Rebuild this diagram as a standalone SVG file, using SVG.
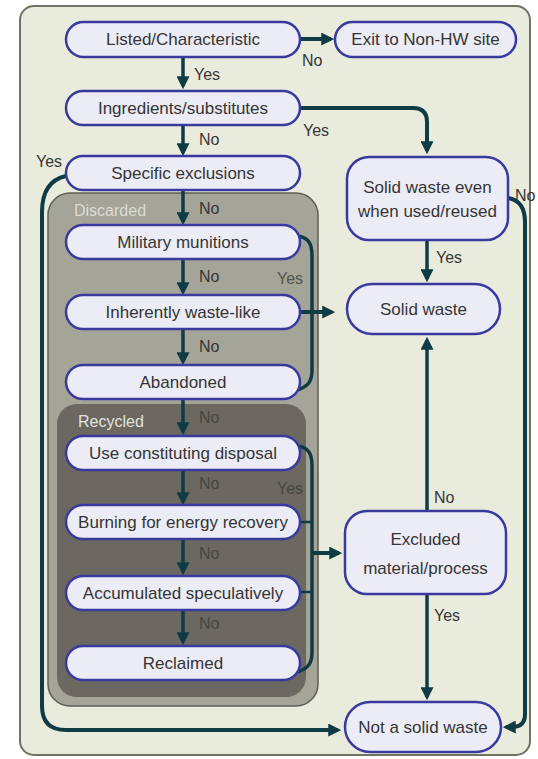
<svg xmlns="http://www.w3.org/2000/svg" width="538" height="759" viewBox="0 0 538 759">
<defs>
<style>
.node rect{fill:#ececf6;stroke:#3a3a9e;stroke-width:2.5}
.node text{font-family:"Liberation Sans",Arial,sans-serif;font-size:17px;fill:#353535;text-anchor:middle}
.lbl{font-family:"Liberation Sans",Arial,sans-serif;font-size:16px;fill:#363636}
.lbl.dim{fill:#53534d}
.lbl.dark{fill:#46463f}
.grp{font-family:"Liberation Sans",Arial,sans-serif;font-size:16px;fill:#dcdcd4}
.c{fill:none;stroke:#0f3b45;stroke-width:4}
.c2{fill:none;stroke:#0f3b45;stroke-width:3.5}
.stub{fill:none;stroke:#0f3b45;stroke-width:2.5}
</style>
<marker id="ah" viewBox="0 0 12 12" refX="9" refY="6" markerWidth="13" markerHeight="13" markerUnits="userSpaceOnUse" orient="auto">
<path d="M0,0 L12,6 L0,12 z" fill="#0f3b45"/>
</marker>
</defs>

<rect x="20" y="6" width="510" height="749" rx="14" fill="#e9ebdc" stroke="#707263" stroke-width="2"/>

<g id="discarded">
<rect x="48" y="193" width="270" height="513" rx="22" fill="#a4a498" stroke="#5e5e56" stroke-width="1.5"/>
<text class="grp" x="74" y="216">Discarded</text>
</g>
<g id="recycled">
<rect x="57" y="404" width="249" height="293" rx="20" fill="#6a6861"/>
<text class="grp" x="78" y="427" style="fill:#e2e2dc">Recycled</text>
</g>

<g id="connectors">
<path class="c" d="M300,39 H331" marker-end="url(#ah)"/>
<path class="c2" d="M183,57 V86" marker-end="url(#ah)"/>
<path class="c" d="M300,108 H413 Q427,108 427,122 V151" marker-end="url(#ah)"/>
<path class="c2" d="M183,125 V153" marker-end="url(#ah)"/>
<path class="c2" d="M183,190 V222" marker-end="url(#ah)"/>
<path class="c2" d="M183,259 V292" marker-end="url(#ah)"/>
<path class="c2" d="M183,329 V362" marker-end="url(#ah)"/>
<path class="c2" d="M183,399 V432" marker-end="url(#ah)"/>
<path class="c2" d="M183,470 V502" marker-end="url(#ah)"/>
<path class="c2" d="M183,539 V572" marker-end="url(#ah)"/>
<path class="c2" d="M183,610 V642" marker-end="url(#ah)"/>
<path class="c" d="M66,176 C48,180 42,194 42,212 V706 Q42,730 66,730 H338" marker-end="url(#ah)"/>
<path class="c2" d="M298,236 C309,238 312,244 312,256 V370 C312,382 308,386 298,390"/>
<path class="c" d="M300,312 H332" marker-end="url(#ah)"/>
<path class="c2" d="M298,446 C309,448 312,454 312,466 V652 C312,664 308,668 298,672"/>
<path class="stub" d="M300,522 H312 M300,592 H312"/>
<path class="c" d="M312,553 H339" marker-end="url(#ah)"/>
<path class="c2" d="M427,240 V279" marker-end="url(#ah)"/>
<path class="c2" d="M427,511 V340" marker-end="url(#ah)"/>
<path class="c2" d="M427,594 V697" marker-end="url(#ah)"/>
<path class="c" d="M508,198 C520,200 525,208 525,222 V714 Q525,727 512,727 H506" marker-end="url(#ah)"/>
</g>

<g id="labels">
<text class="lbl" x="302" y="66">No</text>
<text class="lbl" x="194" y="80">Yes</text>
<text class="lbl" x="303" y="136">Yes</text>
<text class="lbl" x="199" y="145">No</text>
<text class="lbl" x="36" y="167">Yes</text>
<text class="lbl" x="199" y="214">No</text>
<text class="lbl" x="199" y="282">No</text>
<text class="lbl dim" x="277" y="284">Yes</text>
<text class="lbl" x="199" y="352">No</text>
<text class="lbl dark" x="199" y="423">No</text>
<text class="lbl dark" x="199" y="489">No</text>
<text class="lbl dark" x="277" y="494">Yes</text>
<text class="lbl dark" x="199" y="559">No</text>
<text class="lbl dark" x="199" y="629">No</text>
<text class="lbl" x="436" y="263">Yes</text>
<text class="lbl" x="434" y="503">No</text>
<text class="lbl" x="434" y="621">Yes</text>
<text class="lbl" x="515" y="201">No</text>
</g>

<g id="n-listed" class="node"><rect x="66" y="22" width="234" height="35" rx="17.5"/><text x="183" y="45">Listed/Characteristic</text></g>
<g id="n-exit" class="node"><rect x="335" y="22" width="181" height="35" rx="17.5"/><text x="425.5" y="45">Exit to Non-HW site</text></g>
<g id="n-ingredients" class="node"><rect x="66" y="91" width="234" height="34" rx="17"/><text x="183" y="114">Ingredients/substitutes</text></g>
<g id="n-specific" class="node"><rect x="66" y="156" width="234" height="34" rx="17"/><text x="183" y="179">Specific exclusions</text></g>
<g id="n-military" class="node"><rect x="66" y="225" width="234" height="34" rx="17"/><text x="183" y="248">Military munitions</text></g>
<g id="n-inherent" class="node"><rect x="66" y="295" width="234" height="34" rx="17"/><text x="183" y="318">Inherently waste-like</text></g>
<g id="n-abandoned" class="node"><rect x="66" y="365" width="234" height="34" rx="17"/><text x="183" y="388">Abandoned</text></g>
<g id="n-use" class="node"><rect x="66" y="436" width="234" height="34" rx="17"/><text x="183" y="459">Use constituting disposal</text></g>
<g id="n-burning" class="node"><rect x="66" y="505" width="234" height="34" rx="17"/><text x="183" y="528">Burning for energy recovery</text></g>
<g id="n-accumulated" class="node"><rect x="66" y="576" width="234" height="34" rx="17"/><text x="183" y="599">Accumulated speculatively</text></g>
<g id="n-reclaimed" class="node"><rect x="66" y="646" width="234" height="34" rx="17"/><text x="183" y="669">Reclaimed</text></g>
<g id="n-solid-even" class="node"><rect x="347" y="157" width="161" height="83" rx="22"/><text x="427.5" y="193">Solid waste even</text><text x="427.5" y="217">when used/reused</text></g>
<g id="n-solid" class="node"><rect x="347" y="284" width="153" height="50" rx="25"/><text x="423.5" y="315">Solid waste</text></g>
<g id="n-excluded" class="node"><rect x="345" y="511" width="161" height="83" rx="22"/><text x="425.5" y="545">Excluded</text><text x="425.5" y="574">material/process</text></g>
<g id="n-not" class="node"><rect x="345" y="702" width="156" height="50" rx="25"/><text x="423" y="733">Not a solid waste</text></g>
</svg>
